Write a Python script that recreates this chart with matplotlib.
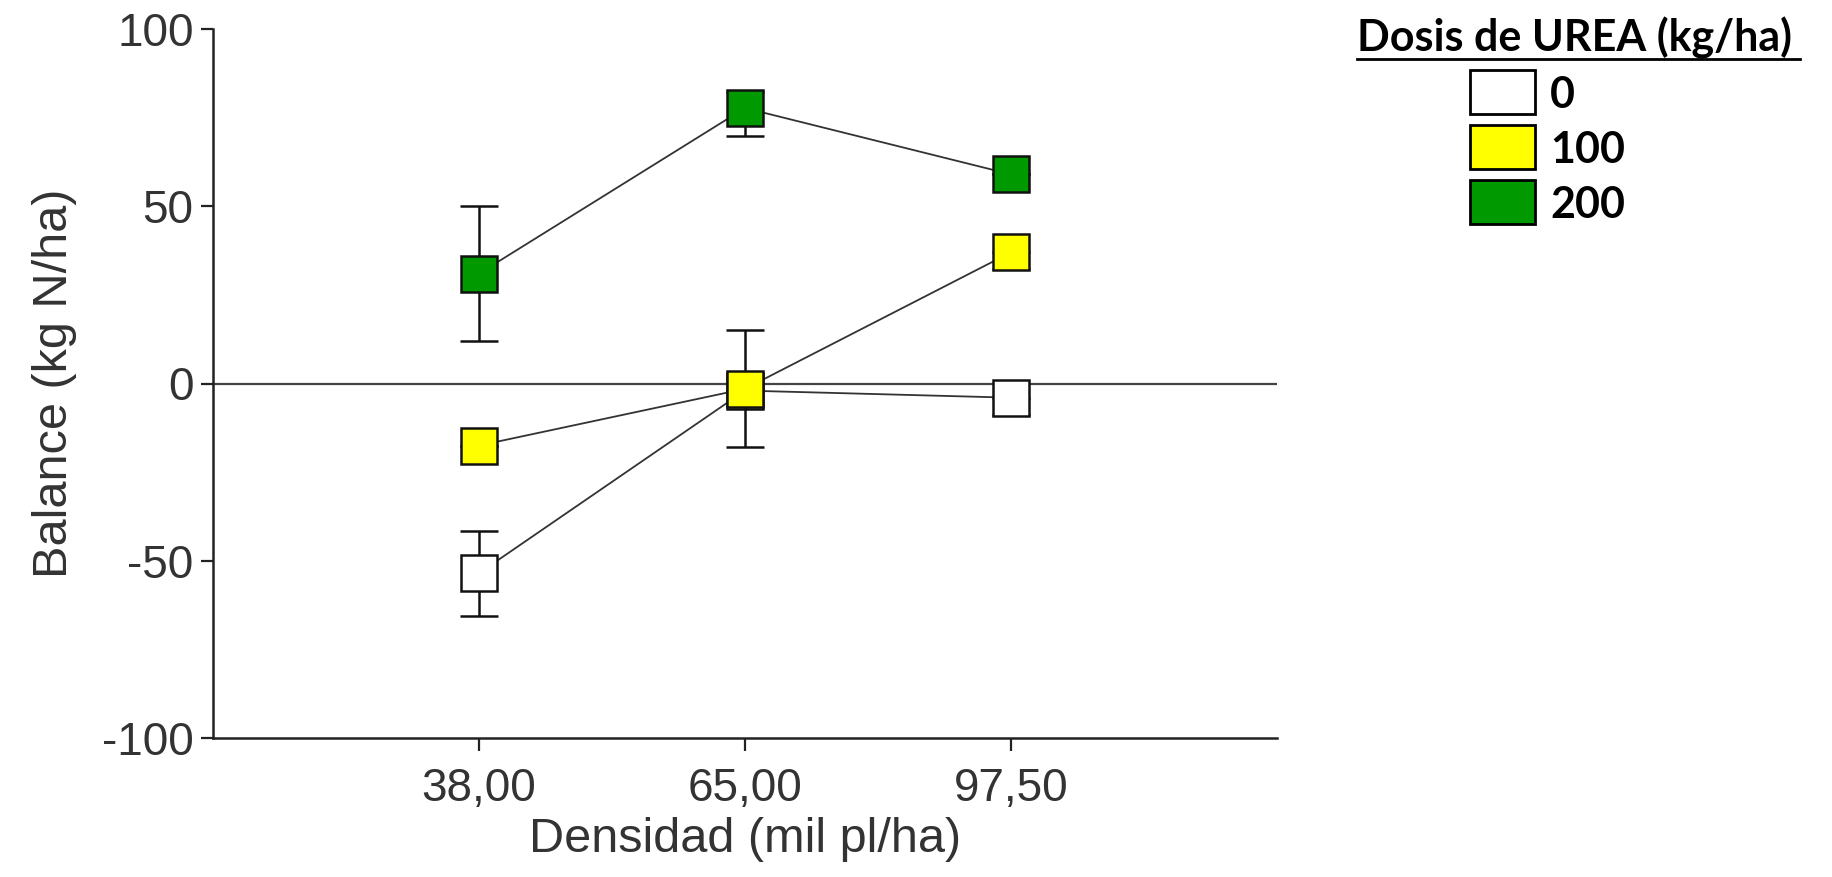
import matplotlib.pyplot as plt
from matplotlib.patches import Rectangle
from matplotlib.lines import Line2D
import numpy as np

# data
densidades = ['38,00', '65,00', '97,50']
dosis = ['0', '100', '200']
colores = ['#ffffff', '#ffff00', '#009900']

bal_0 = [-53.5, -2.0, -4.0]
err_0_low = [12.0, 0.0, 4.8]
err_0_up = [12.0, 0.0, 0.0]
bal_100 = [-17.5, -1.5, 37.0]
err_100_low = [0.0, 16.5, 4.8]
err_100_up = [0.0, 16.5, 0.0]
bal_200 = [31.0, 77.7, 59.0]
err_200_low = [19.0, 8.0, 0.0]
err_200_up = [19.0, 4.6, 0.0]

series = [(bal_0, err_0_low, err_0_up),
          (bal_100, err_100_low, err_100_up),
          (bal_200, err_200_low, err_200_up)]

plt.rcParams['font.family'] = ['Liberation Sans', 'DejaVu Sans']
plt.rcParams['axes.unicode_minus'] = False

fig = plt.figure(figsize=(18.32, 8.77), dpi=100)
ax = fig.add_axes([213 / 1832, 1 - 738 / 877, (1277 - 213) / 1832, (738 - 29) / 877])

x = np.arange(1, len(densidades) + 1)
ax.axhline(0, color='#444444', lw=1.6, zorder=1)

for i, ((vals, lo, up), col) in enumerate(zip(series, colores)):
    z = 3 + 2 * i
    ax.errorbar(x, vals, yerr=[lo, up], fmt='none', ecolor='#111111', elinewidth=1.8,
                capsize=13.5, capthick=1.8, zorder=z)
    ax.plot(x, vals, '-', color='#333333', lw=1.3, zorder=z)
    ax.plot(x, vals, 's', ms=26, mfc=col, mec='#111111', mew=1.8, zorder=z + 1)

ax.set_xlim(0, 4)
ax.set_ylim(-100, 100)
ax.set_xticks(x)
ax.set_xticklabels(densidades)
ax.set_yticks([-100, -50, 0, 50, 100])
ax.spines['top'].set_visible(False)
ax.spines['right'].set_visible(False)
for s in ['left', 'bottom']:
    ax.spines[s].set_linewidth(1.8)
    ax.spines[s].set_color('#222222')
ax.tick_params(direction='out', length=9, width=1.6, color='#222222',
               labelsize=33, labelcolor='#333333', pad=5)
ax.tick_params(axis='x', pad=12)
ax.set_xlabel('Densidad (mil pl/ha)', fontsize=35, color='#333333', labelpad=4)
ax.set_ylabel('Balance (kg N/ha)', fontsize=35, color='#333333', labelpad=18)

# legend drawn by hand
W, H = 1832, 877
lfont = dict(fontsize=31, fontweight='bold', family=['Lato', 'DejaVu Sans'])
fig.text(1357 / W, 1 - 38 / H, 'Dosis de UREA (kg/ha)', ha='left', va='center', **lfont)
fig.add_artist(Line2D([1357 / W, 1800 / W], [1 - 59 / H, 1 - 59 / H],
                      transform=fig.transFigure, color='black', lw=2))
box_top = [70, 125, 180]
for top, col, lab in zip(box_top, colores, dosis):
    fig.add_artist(Rectangle((1470 / W, 1 - (top + 44) / H), 65 / W, 44 / H,
                             transform=fig.transFigure, facecolor=col,
                             edgecolor='black', lw=2))
    fig.text(1550 / W, 1 - (top + 25) / H, lab, ha='left', va='center', **lfont)

fig.savefig('out.png', dpi=100)
